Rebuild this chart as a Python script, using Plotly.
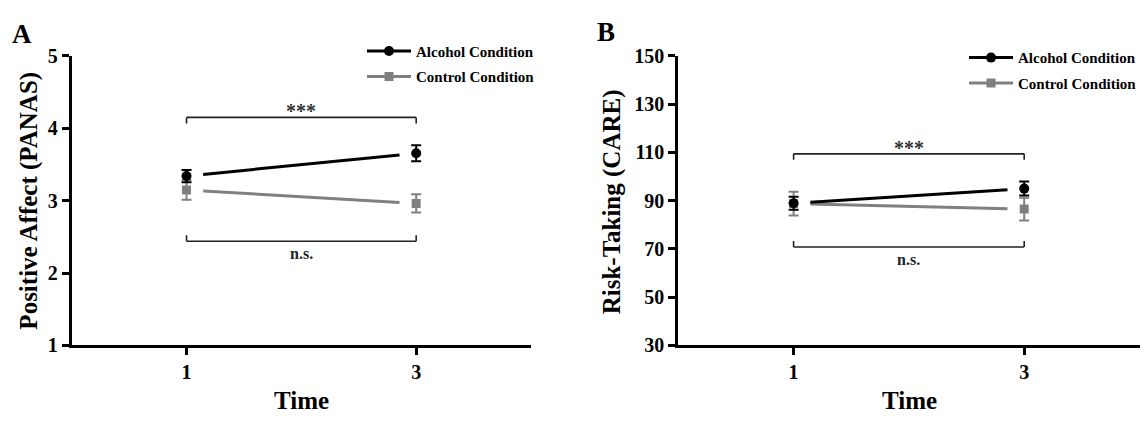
import plotly.graph_objects as go

W, H = 1146, 426

# ---------------- data ----------------
time_points = [1, 3]
time_tick_labels = ["1", "3"]
series_names = ["Alcohol Condition", "Control Condition"]

# Panel A: Positive Affect (PANAS)
panas_alcohol_mean = [3.34, 3.655]
panas_alcohol_err = [0.085, 0.11]
panas_control_mean = [3.148, 2.962]
panas_control_err = [0.135, 0.127]
panas_ticks = [1, 2, 3, 4, 5]
panas_range = [1, 5]
panas_bracket_top = 4.15
panas_bracket_bottom = 2.44

# Panel B: Risk-Taking (CARE)
care_alcohol_mean = [88.9, 95.0]
care_alcohol_err = [2.7, 2.9]
care_control_mean = [88.8, 86.5]
care_control_err = [4.9, 4.7]
care_ticks = [30, 50, 70, 90, 110, 130, 150]
care_range = [30, 150]
care_bracket_top = 109.4
care_bracket_bottom = 70.8

sig_top_label = "***"
sig_bottom_label = "n.s."

# ---------------- style ----------------
FONT = "Liberation Serif"
BLACK = "#000000"
GRAY = "#808080"
BRACKET = "#222222"
LINE_GAP = 0.145  # gap (x units) between line ends and markers


def px_x(p):
    return p / W


def px_y(p):
    return (H - p) / H


def trimmed(xs, ys, gap):
    x0, x1 = xs[0], xs[-1]
    y0, y1 = ys[0], ys[-1]
    slope = (y1 - y0) / (x1 - x0)
    xa, xb = x0 + gap, x1 - gap
    return [xa, xb], [y0 + slope * (xa - x0), y0 + slope * (xb - x0)]


fig = go.Figure()

panels = [
    dict(xa="x", ya="y", legend="legend",
         alc=panas_alcohol_mean, alc_e=panas_alcohol_err,
         con=panas_control_mean, con_e=panas_control_err),
    dict(xa="x2", ya="y2", legend="legend2",
         alc=care_alcohol_mean, alc_e=care_alcohol_err,
         con=care_control_mean, con_e=care_control_err),
]

for p in panels:
    # connecting lines, trimmed short of the markers
    lx, ly = trimmed(time_points, p["con"], LINE_GAP)
    fig.add_trace(go.Scatter(x=lx, y=ly, mode="lines", line=dict(color=GRAY, width=3),
                             xaxis=p["xa"], yaxis=p["ya"], showlegend=False, hoverinfo="skip"))
    lx, ly = trimmed(time_points, p["alc"], LINE_GAP)
    fig.add_trace(go.Scatter(x=lx, y=ly, mode="lines", line=dict(color=BLACK, width=3),
                             xaxis=p["xa"], yaxis=p["ya"], showlegend=False, hoverinfo="skip"))
    # means with error bars
    fig.add_trace(go.Scatter(
        x=time_points, y=p["con"], mode="markers",
        marker=dict(symbol="square", size=9, color=GRAY),
        error_y=dict(type="data", array=p["con_e"], color=GRAY, thickness=2, width=5),
        xaxis=p["xa"], yaxis=p["ya"], showlegend=False, name=series_names[1]))
    fig.add_trace(go.Scatter(
        x=time_points, y=p["alc"], mode="markers",
        marker=dict(symbol="circle", size=10, color=BLACK),
        error_y=dict(type="data", array=p["alc_e"], color=BLACK, thickness=2, width=5),
        xaxis=p["xa"], yaxis=p["ya"], showlegend=False, name=series_names[0]))
    # legend entries
    fig.add_trace(go.Scatter(
        x=[None], y=[None], mode="lines+markers", name=series_names[0],
        line=dict(color=BLACK, width=3), marker=dict(symbol="circle", size=10, color=BLACK),
        xaxis=p["xa"], yaxis=p["ya"], legend=p["legend"], legendgroup="a"))
    fig.add_trace(go.Scatter(
        x=[None], y=[None], mode="lines+markers", name=series_names[1],
        line=dict(color=GRAY, width=3), marker=dict(symbol="square", size=9, color=GRAY),
        xaxis=p["xa"], yaxis=p["ya"], legend=p["legend"], legendgroup="c"))

# ---------------- axes ----------------
tickfont = dict(family=FONT, size=20, color=BLACK, weight="bold")
common_axis = dict(showline=True, linewidth=3, linecolor=BLACK, ticks="outside",
                   ticklen=7, tickwidth=2.5, tickcolor=BLACK, showgrid=False,
                   zeroline=False, tickfont=tickfont, fixedrange=True)

dom_y = [px_y(352.7), px_y(47.3)]
fig.update_layout(
    xaxis=dict(domain=[px_x(71.7), px_x(531)], range=[0, 4], tickvals=time_points,
               ticktext=time_tick_labels, anchor="y", **common_axis),
    yaxis=dict(domain=dom_y, range=panas_range, tickvals=panas_ticks, anchor="x",
               **common_axis),
    xaxis2=dict(domain=[px_x(678.3), px_x(1139.5)], range=[0, 4], tickvals=time_points,
                ticktext=time_tick_labels, anchor="y2", **common_axis),
    yaxis2=dict(domain=dom_y, range=care_range, tickvals=care_ticks, anchor="x2",
                **common_axis),
)

# ---------------- significance brackets ----------------
shapes = []
annotations = []
for xa, ya, top, bot in [("x", "y", panas_bracket_top, panas_bracket_bottom),
                         ("x2", "y2", care_bracket_top, care_bracket_bottom)]:
    for level, direction in [(top, -1), (bot, 1)]:
        shapes.append(dict(type="line", xref=xa, yref=ya, x0=time_points[0], x1=time_points[-1],
                           y0=level, y1=level, line=dict(color=BRACKET, width=1.6)))
        for tx in time_points:
            shapes.append(dict(type="line", xref=xa, yref=ya, x0=tx, x1=tx,
                               ysizemode="pixel", yanchor=level, y0=0, y1=6 * direction,
                               line=dict(color=BRACKET, width=1.6)))
    mid = (time_points[0] + time_points[-1]) / 2
    annotations.append(dict(x=mid, y=top, xref=xa, yref=ya, text=sig_top_label, showarrow=False,
                            yanchor="middle", yshift=6,
                            font=dict(family=FONT, size=20, color="#333333", weight="bold")))
    annotations.append(dict(x=mid, y=bot, xref=xa, yref=ya, text=sig_bottom_label, showarrow=False,
                            yanchor="middle", yshift=-12,
                            font=dict(family=FONT, size=16, color="#222222", weight="bold")))

# ---------------- titles / panel letters ----------------
title_font = dict(family=FONT, size=25, color=BLACK, weight="bold")
annotations += [
    dict(x=px_x(29.5), y=px_y(200.5), xref="paper", yref="paper", text="Positive Affect (PANAS)",
         textangle=-90, showarrow=False, font=title_font, xanchor="center", yanchor="middle"),
    dict(x=px_x(611.7), y=px_y(201), xref="paper", yref="paper", text="Risk-Taking (CARE)",
         textangle=-90, showarrow=False, font=title_font, xanchor="center", yanchor="middle"),
    dict(x=px_x(301), y=px_y(411), xref="paper", yref="paper", text="Time",
         showarrow=False, font=title_font, xanchor="center", yanchor="middle"),
    dict(x=px_x(909), y=px_y(411), xref="paper", yref="paper", text="Time",
         showarrow=False, font=title_font, xanchor="center", yanchor="middle"),
    dict(x=px_x(21.5), y=px_y(24), xref="paper", yref="paper", text="A",
         showarrow=False, font=dict(family=FONT, size=27, color=BLACK, weight="bold"),
         xanchor="center", yanchor="middle"),
    dict(x=px_x(606), y=px_y(22), xref="paper", yref="paper", text="B",
         showarrow=False, font=dict(family=FONT, size=27, color=BLACK, weight="bold"),
         xanchor="center", yanchor="middle"),
]

legend_font = dict(family=FONT, size=15, color=BLACK, weight="bold")
legend_common = dict(font=legend_font, bgcolor="rgba(0,0,0,0)", borderwidth=0,
                     xanchor="left", yanchor="top", traceorder="grouped",
                     tracegroupgap=3, itemwidth=44)

fig.update_layout(
    width=W, height=H,
    margin=dict(l=0, r=0, t=0, b=0),
    paper_bgcolor="white", plot_bgcolor="white",
    shapes=shapes, annotations=annotations,
    legend=dict(x=px_x(362), y=px_y(25), **legend_common),
    legend2=dict(x=px_x(964), y=px_y(32), **legend_common),
    showlegend=True,
)

fig.write_html("out.html", config={"displayModeBar": False},
               post_script="document.body.style.margin='0';")
